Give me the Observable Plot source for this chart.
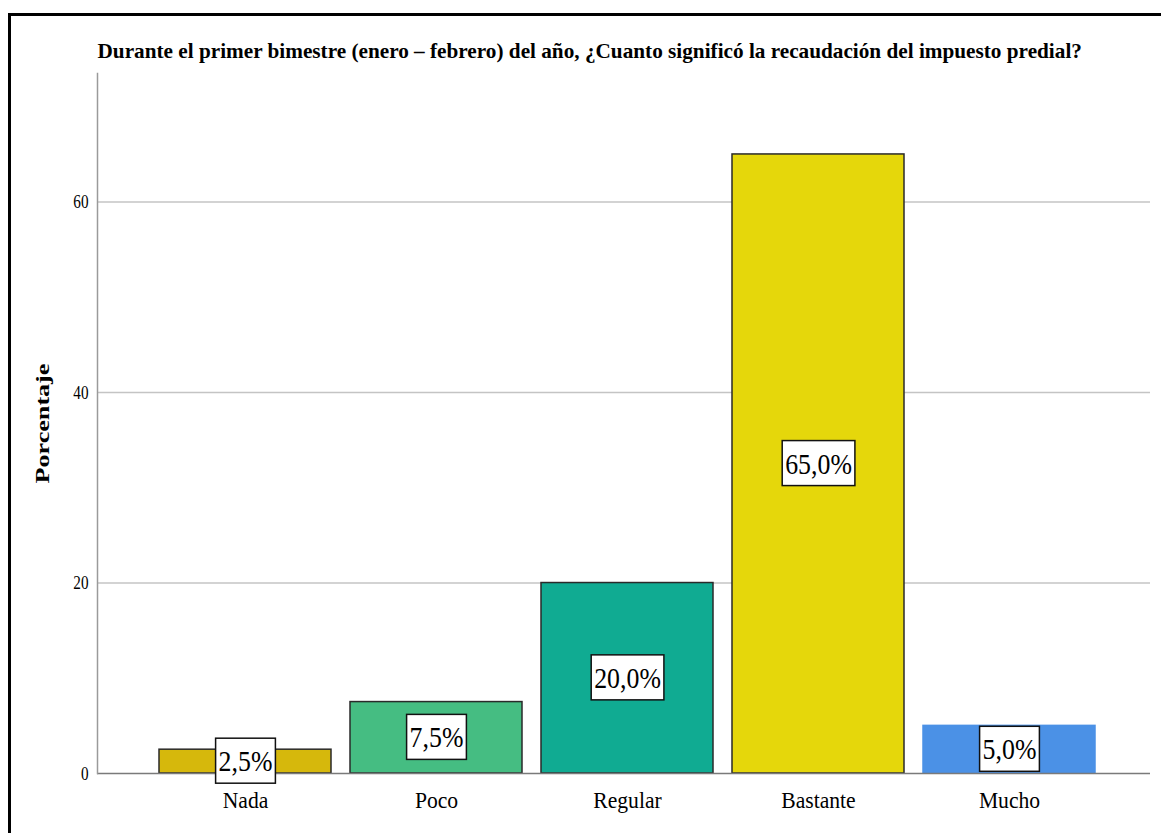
<!DOCTYPE html>
<html>
<head>
<meta charset="utf-8">
<script src="https://cdn.jsdelivr.net/npm/d3@7"></script>
<script src="https://cdn.jsdelivr.net/npm/@observablehq/plot@0.6"></script>
<style>
  html, body { margin: 0; padding: 0; background: #fff; overflow: hidden; width: 1161px; height: 833px; }
  #frame { position: absolute; left: 8px; top: 13px; width: 1200px; height: 900px; border: 3px solid #000; box-sizing: border-box; }
  #chart { position: absolute; left: 0; top: 0; }
</style>
</head>
<body>
<div id="frame"></div>
<div id="chart"></div>
<script>
// Survey answers and their share of respondents (%)
const categories = ["Nada", "Poco", "Regular", "Bastante", "Mucho"];
const percentages = [2.5, 7.5, 20.0, 65.0, 5.0];
const barColors = ["#d6b80c", "#45bd82", "#10ab92", "#e5d70b", "#4b91e6"];
const yTicks = [0, 20, 40, 60];
const titleText = "Durante el primer bimestre (enero – febrero) del año, ¿Cuanto significó la recaudación del impuesto predial?";
const yLabel = "Porcentaje";

const serif = "'Liberation Serif', 'Times New Roman', serif";
const data = categories.map((c, i) => ({categoria: c, porcentaje: percentages[i], color: barColors[i]}));
const fmt = v => v.toFixed(1).replace(".", ",") + "%";

const chart = Plot.plot({
  width: 1161,
  height: 833,
  marginLeft: 97,
  marginRight: 11,
  marginTop: 73,
  marginBottom: 60,
  style: {fontFamily: serif, background: "transparent", color: "#000", overflow: "visible"},
  x: {domain: categories, paddingInner: 0.097, paddingOuter: 0.303, align: 0.534, label: null},
  y: {domain: [0, 73.5], label: null},
  color: {type: "identity"},
  marks: [
    Plot.gridY(yTicks.filter(t => t > 0), {stroke: "#c4c4c4", strokeOpacity: 1, strokeWidth: 1.5}),
    Plot.barY(data, {
      x: "categoria", y: "porcentaje", fill: "color",
      stroke: d => d.categoria === "Mucho" ? d.color : "#2a2a2a",
      strokeWidth: 1.5
    }),
    Plot.ruleY([0], {stroke: "#7a7a7a", strokeWidth: 1.5}),
    Plot.frame({anchor: "left", stroke: "#9a9a9a", strokeWidth: 1.5}),
    Plot.axisY(yTicks, {tickSize: 0, tickPadding: 9, fontSize: 19, fontFamily: serif, label: null}),
    Plot.axisX({tickSize: 0, tickPadding: 17, fontSize: 24, fontFamily: serif, label: null}),
    Plot.text(data, {x: "categoria", y: d => d.porcentaje / 2, text: d => fmt(d.porcentaje), fontSize: 30, fontFamily: serif, fill: "#000", className: "vlabel"}),
    Plot.text([titleText], {frameAnchor: "top-left", textAnchor: "start", lineAnchor: "bottom", dy: -16, fontSize: 22, fontWeight: "bold", fontFamily: serif, fill: "#000", className: "ttl"}),
    Plot.text([yLabel], {frameAnchor: "left", textAnchor: "middle", rotate: -90, dx: -54, fontSize: 18, fontWeight: "bold", fontFamily: serif, fill: "#000", className: "ylab"})
  ]
});

document.getElementById("chart").append(chart);

// Narrow (or widen) the serif glyphs to the tall, condensed look of the lettering.
// Centred labels are re-anchored at their start so the resized run stays centred.
function squeeze(selector, k) {
  chart.querySelectorAll(selector).forEach(t => {
    const len = t.getComputedTextLength();
    const target = len * k;
    const anchor = getComputedStyle(t).textAnchor;
    if (anchor === "middle") {
      const x0 = parseFloat(t.getAttribute("x") || 0);
      t.setAttribute("text-anchor", "start");
      t.setAttribute("x", (x0 - target / 2).toFixed(1));
    }
    t.setAttribute("textLength", target.toFixed(1));
    t.setAttribute("lengthAdjust", "spacingAndGlyphs");
  });
}
squeeze('g[aria-label="y-axis tick label"] text', 0.8);
squeeze('g[aria-label="x-axis tick label"] text', 0.9);
squeeze(".vlabel text", 0.86);
squeeze(".ttl text", 0.965);
squeeze(".ylab text", 1.45);

// White boxes with a black outline behind the value labels
chart.querySelectorAll(".vlabel text").forEach(t => {
  const b = t.getBBox();
  const cy = b.y + b.height / 2;
  const r = document.createElementNS("http://www.w3.org/2000/svg", "rect");
  r.setAttribute("x", b.x - 3);
  r.setAttribute("y", cy - 22.5);
  r.setAttribute("width", b.width + 6);
  r.setAttribute("height", 45);
  r.setAttribute("fill", "#fff");
  r.setAttribute("stroke", "#111");
  r.setAttribute("stroke-width", 1.5);
  const tr = t.getAttribute("transform");
  if (tr) r.setAttribute("transform", tr);
  t.parentNode.insertBefore(r, t);
});
</script>
</body>
</html>
